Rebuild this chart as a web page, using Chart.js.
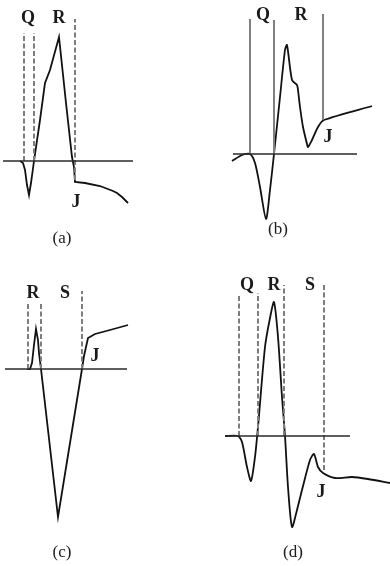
<!DOCTYPE html>
<html>
<head>
<meta charset="utf-8">
<script src="https://cdn.jsdelivr.net/npm/chart.js@4"></script>
<style>
  html, body { margin: 0; padding: 0; background: #fff; }
  #wrap { position: relative; width: 390px; height: 566px; overflow: hidden; }
  #wrap canvas { position: absolute; }
</style>
</head>
<body>
<div id="wrap">
  <canvas id="panelA" width="195" height="260" style="left:0;top:0"></canvas>
  <canvas id="panelB" width="195" height="260" style="left:195px;top:0"></canvas>
  <canvas id="panelC" width="195" height="306" style="left:0;top:260px"></canvas>
  <canvas id="panelD" width="195" height="306" style="left:195px;top:260px"></canvas>
</div>
<script>
// (a) amplitude vs time, baseline = 0
const aTime = [20, 23, 25, 27, 29, 31, 34, 40, 45, 50, 59, 66, 72, 74, 75, 85, 100, 113, 117, 122, 128];
const aAmp  = [0, -2, -9, -24, -34, -22, 0, 41, 78, 91, 124, 58, 4, -6, -21, -22, -25, -30, -32, -36, -42];
const aMarkTime = [24, 34, 75];
const aMarkTop  = [128, 128, 142];
const aMarkLow  = [0, 0, -19];
const aBase = [3, 133];

// (b)
const bTime = [37, 47, 55, 60, 65, 71, 75, 79, 85, 90, 92, 97, 102, 103, 105, 108, 112, 113, 117, 123, 129, 177];
const bAmp  = [-7, -1, 0, -9, -33, -65, -36, 0, 57, 104, 109, 74, 69, 64, 47, 27, 10, 7, 14, 27, 34, 48];
const bMarkTime = [55, 79, 128];
const bMarkTop  = [135, 134, 140];
const bMarkLow  = [0, 0, 34];
const bBase = [38, 162];

// (c)
const cTime = [27, 30, 32, 34, 36, 38, 39, 41, 58, 82, 84, 86, 88, 95, 110, 128];
const cAmp  = [0, 0, 6, 24, 40, 29, 16, 0, -148, 0, 13, 22, 31, 35, 39, 44];
const cMarkTime = [28, 41, 82];
const cMarkTop  = [66, 66, 78];
const cMarkLow  = [0, 0, 0];
const cBase = [5, 127];

// (d)
const dTime = [30, 43, 47, 52, 56, 60, 63, 70, 75, 79, 83, 87, 90, 93, 97, 102, 107, 115, 119, 123, 128, 140, 157, 173, 195];
const dAmp  = [0, 0, -6, -31, -45, -21, 9, 89, 118, 134, 99, 39, 0, -51, -91, -74, -54, -24, -18, -31, -37, -42, -41, -43, -47];
const dMarkTime = [44, 63, 89, 129];
const dMarkTop  = [140, 143, 151, 153];
const dMarkLow  = [0, 0, 0, -34];
const dBase = [30, 155];

const labelText = {
  a: ['Q', 'R', 'J', '(a)'],
  b: ['Q', 'R', 'J', '(b)'],
  c: ['R', 'S', 'J', '(c)'],
  d: ['Q', 'R', 'S', 'J', '(d)']
};

// where the texts sit, in each panel's own units
const labelPos = {
  a: [[28, 143], [59, 143], [76, -41], [62, -78]],
  b: [[68, 139], [106, 139], [133, 17], [83, -76]],
  c: [[33, 76], [65, 76], [95, 13], [62, -184]],
  d: [[52, 151], [79, 151], [115, 151], [126, -56], [98, -117]]
};

const textPlugin = {
  id: 'panelText',
  afterDraw(chart, args, opts) {
    const ctx = chart.ctx;
    const sx = chart.scales.x, sy = chart.scales.y;
    ctx.save();
    ctx.fillStyle = '#1a1a1a';
    ctx.textAlign = 'center';
    ctx.textBaseline = 'middle';
    opts.texts.forEach((t, i) => {
      const p = opts.pos[i];
      ctx.font = t.startsWith('(') ? '17px "Liberation Serif", serif' : 'bold 18px "Liberation Serif", serif';
      ctx.fillText(t, sx.getPixelForValue(p[0]), sy.getPixelForValue(p[1]));
    });
    ctx.restore();
  }
};

function makePanel(id, time, amp, markTime, markTop, markLow, base, key, yRange, dashed, tension) {
  const datasets = [];
  datasets.push({
    data: base.map(t => ({ x: t, y: 0 })),
    borderColor: '#2a2a2a', borderWidth: 1.6
  });
  markTime.forEach((t, i) => {
    datasets.push({
      data: [{ x: t, y: markLow[i] }, { x: t, y: markTop[i] }],
      borderColor: dashed ? '#7d7d7d' : '#808080', borderWidth: 2,
      borderDash: dashed ? [5, 2.5] : []
    });
  });
  datasets.push({
    data: time.map((t, i) => ({ x: t, y: amp[i] })),
    borderColor: '#111', borderWidth: 1.8, tension: tension
  });

  new Chart(document.getElementById(id), {
    type: 'line',
    data: { datasets: datasets },
    options: {
      responsive: false,
      animation: false,
      devicePixelRatio: 1,
      layout: { padding: 0 },
      elements: { point: { radius: 0 } },
      plugins: {
        legend: { display: false },
        tooltip: { enabled: false },
        panelText: { texts: labelText[key], pos: labelPos[key] }
      },
      scales: {
        x: { type: 'linear', display: false, min: 0, max: 195 },
        y: { type: 'linear', display: false, min: yRange[0], max: yRange[1] }
      }
    },
    plugins: [textPlugin]
  });
}

makePanel('panelA', aTime, aAmp, aMarkTime, aMarkTop, aMarkLow, aBase, 'a', [-99, 161], true, 0);
makePanel('panelB', bTime, bAmp, bMarkTime, bMarkTop, bMarkLow, bBase, 'b', [-106, 154], false, 0.25);
makePanel('panelC', cTime, cAmp, cMarkTime, cMarkTop, cMarkLow, cBase, 'c', [-197, 109], true, 0);
makePanel('panelD', dTime, dAmp, dMarkTime, dMarkTop, dMarkLow, dBase, 'd', [-130, 176], true, 0.25);
</script>
</body>
</html>
